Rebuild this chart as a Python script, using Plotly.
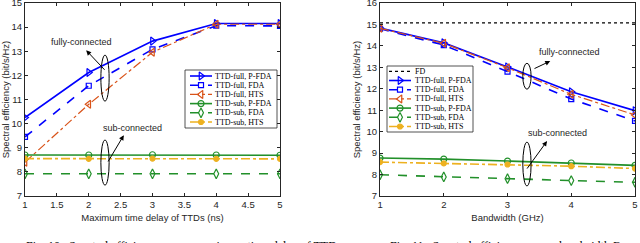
import plotly.graph_objects as go

# ---------------- data ----------------
delay_ns = [1, 2, 3, 4, 5]
full_pfda_a = [10.25, 12.12, 13.42, 14.15, 14.15]
full_fda_a = [9.45, 11.57, 13.08, 14.06, 14.05]
full_hts_a = [8.40, 10.80, 12.96, 14.12, 14.12]
sub_pfda_a = [8.70, 8.70, 8.71, 8.70, 8.69]
sub_fda_a = [7.92, 7.92, 7.92, 7.92, 7.92]
sub_hts_a = [8.55, 8.54, 8.55, 8.54, 8.54]

bandwidth_ghz = [1, 2, 3, 4, 5]
fd_b = [15.07, 15.07, 15.07, 15.07, 15.07]
full_pfda_b = [14.83, 14.14, 13.02, 11.86, 10.98]
full_fda_b = [14.80, 14.04, 12.80, 11.52, 10.50]
full_hts_b = [14.82, 14.12, 12.98, 11.74, 10.78]
sub_pfda_b = [8.77, 8.72, 8.63, 8.54, 8.43]
sub_fda_b = [7.99, 7.89, 7.81, 7.72, 7.64]
sub_hts_b = [8.58, 8.52, 8.47, 8.39, 8.28]

names = ["TTD-full, P-FDA", "TTD-full, FDA", "TTD-full, HTS",
         "TTD-sub, P-FDA", "TTD-sub, FDA", "TTD-sub, HTS"]

BLUE = "#0000FF"
ORANGE = "#D95319"
GREEN = "#22902A"
YELLOW = "#EDB120"
AX = "#262626"

styles = [
    dict(color=BLUE, dash="solid", symbol="triangle-right-open", size=7, width=1.6),
    dict(color=BLUE, dash="dash", symbol="square-open", size=5, width=1.6),
    dict(color=ORANGE, dash="dashdot", symbol="triangle-left-open", size=7, width=1.2),
    dict(color=GREEN, dash="solid", symbol="circle-open", size=6, width=1.6),
    dict(color=GREEN, dash="dash", symbol="diamond-tall-open", size=7, width=1.6),
    dict(color=YELLOW, dash="dashdot", symbol="circle", size=5, width=1.6),
]
fd_style = dict(color="black", dash="dot", width=1.3)

fig = go.Figure()

left_series = [full_pfda_a, full_fda_a, full_hts_a, sub_pfda_a, sub_fda_a, sub_hts_a]
right_series = [full_pfda_b, full_fda_b, full_hts_b, sub_pfda_b, sub_fda_b, sub_hts_b]


def add_series(xs, ys, nm, st, xa, ya):
    fig.add_trace(go.Scatter(
        x=xs, y=ys, name=nm, mode="lines+markers", showlegend=False,
        line=dict(color=st["color"], dash=st["dash"], width=st["width"]),
        marker=dict(symbol=st["symbol"], size=st["size"], color=st["color"],
                    line=dict(width=1.2, color=st["color"])),
        xaxis=xa, yaxis=ya))


for nm, ys, st in zip(names, left_series, styles):
    add_series(delay_ns, ys, nm, st, "x", "y")

fig.add_trace(go.Scatter(x=bandwidth_ghz, y=fd_b, name="FD", mode="lines",
                         showlegend=False, line=fd_style, xaxis="x2", yaxis="y2"))
for nm, ys, st in zip(names, right_series, styles):
    add_series(bandwidth_ghz, ys, nm, st, "x2", "y2")

# ------------- compact legends drawn on an invisible pixel-unit overlay -------------
def draw_legend(box, entries, x_line0, x_line1, x_text, y_first, dy):
    bx0, bx1, by0, by1 = box
    fig.add_trace(go.Scatter(x=[bx0, bx1, bx1, bx0, bx0], y=[by0, by0, by1, by1, by0],
                             mode="lines", fill="toself", fillcolor="white",
                             line=dict(color=AX, width=0.8), showlegend=False,
                             hoverinfo="skip", xaxis="x3", yaxis="y3"))
    for i, (label, st) in enumerate(entries):
        yc = y_first + i * dy
        xm = (x_line0 + x_line1) / 2
        has_marker = "symbol" in st
        fig.add_trace(go.Scatter(
            x=[x_line0, xm, x_line1], y=[yc, yc, yc],
            mode="lines+markers" if has_marker else "lines",
            line=dict(color=st["color"], dash=st["dash"], width=st["width"]),
            marker=dict(symbol=st.get("symbol", "circle"), size=st.get("size", 1),
                        color=st["color"], opacity=[0, 1, 0],
                        line=dict(width=1.2, color=st["color"])),
            showlegend=False, hoverinfo="skip", xaxis="x3", yaxis="y3"))
        fig.add_annotation(xref="x3", yref="y3", x=x_text, y=yc, text=label,
                           showarrow=False, xanchor="left", yanchor="middle",
                           font=dict(family="Liberation Serif", size=8, color="black"))


draw_legend((185, 277, 70, 128), list(zip(names, styles)),
            190, 212, 213, 76, 9.2)
draw_legend((387, 473, 66, 132), [("FD", fd_style)] + list(zip(names, styles)),
            389, 411, 413, 71.3, 9.2)

axis_common = dict(showline=True, mirror="ticks", linecolor=AX, linewidth=1,
                   ticks="inside", ticklen=3, tickcolor=AX, showgrid=False,
                   zeroline=False, automargin=False, ticklabeloverflow="allow",
                   tickfont=dict(family="Liberation Sans", size=9.5, color=AX))
hidden = dict(visible=False, showgrid=False, zeroline=False, fixedrange=True)

fig.update_layout(
    width=640, height=243,
    margin=dict(l=25, r=5, t=3, b=47),
    paper_bgcolor="white", plot_bgcolor="rgba(0,0,0,0)",
    font=dict(family="Liberation Sans", size=9.5, color=AX),
    showlegend=False,
    xaxis=dict(domain=[0, 0.418], range=[1, 5], dtick=0.5, anchor="y",
               title=dict(text="Maximum time delay of TTDs (ns)", standoff=4,
                          font=dict(size=9.5, color=AX)), **axis_common),
    yaxis=dict(domain=[0, 1], range=[7, 15], dtick=1, anchor="x",
               title=dict(text="Spectral efficiency (bit/s/Hz)", standoff=4,
                          font=dict(size=9.5, color=AX)), **axis_common),
    xaxis2=dict(domain=[0.582, 1], range=[1, 5], dtick=1, anchor="y2",
                title=dict(text="Bandwidth (GHz)", standoff=4,
                           font=dict(size=9.5, color=AX)), **axis_common),
    yaxis2=dict(domain=[0, 1], range=[7, 16], dtick=1, anchor="x2",
                title=dict(text="Spectral efficiency (bit/s/Hz)", standoff=4,
                           font=dict(size=9.5, color=AX)), **axis_common),
    xaxis3=dict(domain=[0, 1], range=[25, 635], anchor="y3", **hidden),
    yaxis3=dict(domain=[0, 1], range=[196, 3], anchor="x3", **hidden),
)

# ellipses (annotation marks)
ell = dict(type="circle", line=dict(color="black", width=1), fillcolor="rgba(0,0,0,0)")
fig.add_shape(xref="x", yref="y", x0=2.19, x1=2.32, y0=10.93, y1=12.84, **ell)
fig.add_shape(xref="x", yref="y", x0=2.19, x1=2.32, y0=7.45, y1=9.32, **ell)
fig.add_shape(xref="x2", yref="y2", x0=3.24, x1=3.37, y0=11.98, y1=13.19, **ell)
fig.add_shape(xref="x2", yref="y2", x0=3.24, x1=3.37, y0=7.47, y1=9.51, **ell)

arrow = dict(showarrow=True, arrowhead=2, arrowsize=1, arrowwidth=1,
             arrowcolor="black", text="")
fig.add_annotation(xref="x", yref="y", axref="x", ayref="y",
                   ax=2.27, ay=12.17, x=1.96, y=13.04, **arrow)
fig.add_annotation(xref="x", yref="y", axref="x", ayref="y",
                   ax=2.29, ay=8.37, x=2.55, y=9.52, **arrow)
fig.add_annotation(xref="x2", yref="y2", axref="x2", ayref="y2",
                   ax=3.40, ay=12.91, x=3.67, y=13.29, **arrow)
fig.add_annotation(xref="x2", yref="y2", axref="x2", ayref="y2",
                   ax=3.29, ay=8.21, x=3.62, y=9.56, **arrow)

lab = dict(showarrow=False, font=dict(family="Liberation Sans", size=9, color=AX))
fig.add_annotation(xref="x", yref="y", x=1.89, y=13.37, text="fully-connected", **lab)
fig.add_annotation(xref="x", yref="y", x=2.68, y=9.81, text="sub-connected", **lab)
fig.add_annotation(xref="x2", yref="y2", x=3.98, y=13.70, text="fully-connected", **lab)
fig.add_annotation(xref="x2", yref="y2", x=3.78, y=9.93, text="sub-connected", **lab)

# captions (cut off at the bottom of the picture)
cap = dict(showarrow=False, xref="paper", yref="paper", xanchor="left", yanchor="top",
           font=dict(family="Liberation Serif", size=12, color="black"))
fig.add_annotation(x=-0.002, y=-0.213, text="Fig. 10.  Spectral efficiency versus maximum time delay of TTDs.", **cap)
fig.add_annotation(x=0.595, y=-0.213, text="Fig. 11.  Spectral efficiency versus bandwidth B.", **cap)

fig.write_html("out.html", config={"displayModeBar": False},
               post_script="document.body.style.margin='0px';")
